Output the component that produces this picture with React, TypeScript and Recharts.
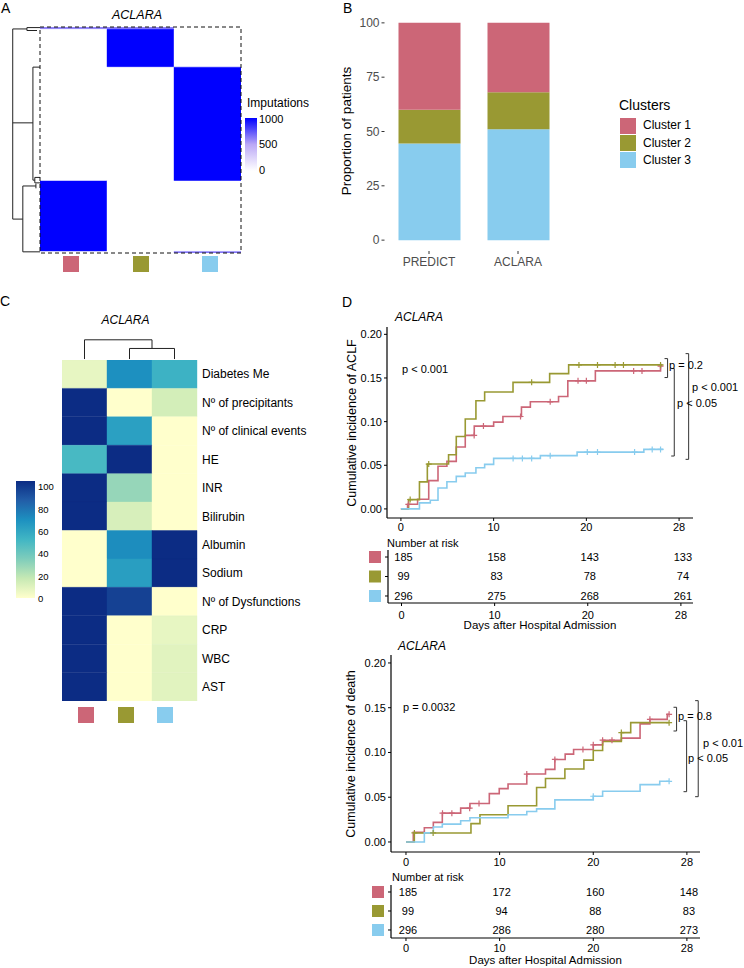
import React from "react";
import { Bar, BarChart, Cell, ComposedChart, Line, Scatter, XAxis, YAxis } from "recharts";

const FONT = '"Liberation Sans", Arial, Helvetica, sans-serif';

const clusterNames = ["Cluster 1", "Cluster 2", "Cluster 3"];
const clusterColors = ["#CC6677", "#999933", "#88CCEE"];

// ---------- A: imputation heatmap (row blocks, top to bottom) ----------
const impBlockSizes = [6, 97, 292, 181, 4];
// number of imputations (of 1000) assigning each block to clusters 1..3
const impBlockValues = [
  [620, 620, 0],
  [0, 1000, 0],
  [0, 0, 1000],
  [1000, 0, 0],
  [0, 0, 650],
];
const impLegendTicks = ["1000", "500", "0"];
// dendrogram segments as [height, patient row]
const impDendro: [number, number][][] = [
  [[1, 5], [1, 493]],
  [[1, 5], [0.48, 5]],
  [[0.48, 1.5], [0.48, 9]],
  [[0.48, 1.5], [0, 1.5]],
  [[0.48, 9], [0.11, 9]],
  [[1, 246], [0.26, 246]],
  [[0.26, 103], [0.26, 393]],
  [[0.26, 103], [0, 103]],
  [[0.26, 393], [0.19, 393]],
  [[0.19, 386], [0.19, 400]],
  [[0.19, 386], [0, 386]],
  [[0.19, 400], [0, 400]],
  [[1, 493], [0.63, 493]],
  [[0.63, 408], [0.63, 577]],
  [[0.63, 408], [0.15, 408]],
  [[0.15, 402], [0.15, 414]],
  [[0.63, 577], [0, 577]],
];

// ---------- B: proportion of patients ----------
const cohorts = ["PREDICT", "ACLARA"];
const pctCluster1 = [40.0, 31.9];
const pctCluster2 = [15.5, 17.1];
const pctCluster3 = [44.5, 51.0];
const pctTicks = [0, 25, 50, 75, 100];

// ---------- C: feature heatmap ----------
const featureNames = [
  "Diabetes Me",
  "Nº of precipitants",
  "Nº of clinical events",
  "HE",
  "INR",
  "Bilirubin",
  "Albumin",
  "Sodium",
  "Nº of Dysfunctions",
  "CRP",
  "WBC",
  "AST",
];
const featCluster1 = [7, 100, 100, 48, 100, 100, 0, 0, 100, 100, 100, 100];
const featCluster2 = [67, 0, 60, 100, 28, 12, 68, 61, 93, 0, 0, 0];
const featCluster3 = [52, 13, 0, 0, 0, 0, 100, 100, 0, 7, 9, 9];
const featLegendTicks = ["100", "80", "60", "40", "20", "0"];
// column dendrogram segments as [column position, height]
const featDendro: [number, number][][] = [
  [[0.5, 0], [0.5, 0.8]],
  [[0.5, 0.8], [2.0, 0.8]],
  [[2.0, 0.8], [2.0, 0.44]],
  [[1.5, 0.44], [2.5, 0.44]],
  [[1.5, 0.44], [1.5, 0]],
  [[2.5, 0.44], [2.5, 0]],
];

// ---------- D: cumulative incidence ----------
const dayTicks = [0, 10, 20, 30];
const dayTickLabels = ["0", "10", "20", "28"];
const incTicks = [0, 0.05, 0.1, 0.15, 0.2];

const aclfC1: [number, number][] = [
  [0, 0], [0.72, 0.0053], [1.8, 0.011], [3.0, 0.0324], [4.0, 0.0488], [4.96, 0.0545],
  [5.97, 0.0709], [6.94, 0.0842], [7.91, 0.0949], [10.0, 0.0994], [11.0, 0.1059],
  [13.0, 0.1166], [13.96, 0.1227], [17.0, 0.1288], [18.0, 0.1467], [20.97, 0.1581],
  [28.0, 0.1635], [28.1, 0.1635],
];
const aclfC2: [number, number][] = [
  [0, 0], [0.83, 0.0107], [2.0, 0.031], [2.85, 0.0514], [5.14, 0.062], [5.97, 0.083],
  [6.94, 0.103], [8.09, 0.124], [9.03, 0.134], [12.09, 0.145], [16.04, 0.155],
  [18.09, 0.165], [28.2, 0.165],
];
const aclfC3: [number, number][] = [
  [0, 0], [2.0, 0.0069], [3.17, 0.0099], [4.0, 0.024], [4.96, 0.0312], [5.97, 0.0373],
  [6.94, 0.0411], [8.09, 0.0472], [9.03, 0.051], [10.0, 0.0579], [15.04, 0.061],
  [19.0, 0.0651], [26.2, 0.0682], [28.3, 0.0682],
];
const aclfCensor1 = [0.8, 7.9, 8.9, 12.9, 16.1, 19.1, 20.0, 25.1, 26.0, 28.0];
const aclfCensor2 = [1.0, 3.0, 14.1, 19.2, 21.2, 23.1, 24.0, 28.0];
const aclfCensor3 = [12.1, 13.1, 14.1, 16.1, 20.1, 21.2, 25.2, 27.1, 28.0];
const aclfBracketDays = [28.76, 29.48, 31.03];
const aclfBracketTops = [0.1722, 0.1608, 0.1779];
const aclfBracketBottoms = [0.1505, 0.0606, 0.0568];

const deathC1: [number, number][] = [
  [0, 0], [0.78, 0.0107], [1.96, 0.0159], [2.92, 0.0219], [3.88, 0.0322], [5.84, 0.0378],
  [6.83, 0.043], [8.9, 0.054], [9.96, 0.0596], [10.9, 0.0648], [12.9, 0.0759],
  [14.9, 0.0811], [15.9, 0.0922], [17.0, 0.0981], [17.9, 0.1033], [20.0, 0.1085],
  [21.0, 0.1137], [23.0, 0.116], [25.0, 0.132], [26.05, 0.137], [27.9, 0.1426],
  [28.1, 0.1426],
];
const deathC2: [number, number][] = [
  [0, 0], [0.89, 0.0101], [6.94, 0.0205], [7.9, 0.0305], [10.9, 0.0405], [13.95, 0.0609],
  [14.9, 0.071], [16.97, 0.0815], [19.0, 0.0915], [20.0, 0.1022], [21.0, 0.1122],
  [23.0, 0.1222], [24.0, 0.1333], [28.1, 0.1333],
];
const deathC3: [number, number][] = [
  [0, 0], [1.96, 0.0102], [2.92, 0.0167], [3.88, 0.02], [5.84, 0.0237], [6.83, 0.027],
  [10.9, 0.0304], [12.9, 0.0341], [13.95, 0.037], [15.9, 0.047], [20.0, 0.0511],
  [21.0, 0.0567], [25.0, 0.0641], [27.1, 0.0678], [28.1, 0.0678],
];
const deathCensor1 = [3.9, 4.9, 6.8, 7.8, 12.9, 15.9, 18.9, 20.0, 21.0, 22.0, 26.05, 28.1];
const deathCensor2 = [0.9, 2.9, 23.0, 28.1];
const deathCensor3 = [20.0, 28.1];
const deathBracketDays = [28.9, 29.97, 31.21];
const deathBracketTops = [0.1505, 0.1355, 0.1579];
const deathBracketBottoms = [0.124, 0.0562, 0.0506];

const aclfRisk1 = [185, 158, 143, 133];
const aclfRisk2 = [99, 83, 78, 74];
const aclfRisk3 = [296, 275, 268, 261];
const deathRisk1 = [185, 172, 160, 148];
const deathRisk2 = [99, 94, 88, 83];
const deathRisk3 = [296, 286, 280, 273];

// ---------- helpers ----------
const impColors = ["#ffffff", "#bba8f6", "#0000ff"];
const ylGnBu = ["#ffffcc", "#c7e9b4", "#7fcdbb", "#41b6c4", "#1d91c0", "#225ea8", "#0c2c84"];

function ramp(stops: string[], t: number) {
  const n = stops.length - 1;
  const p = Math.max(0, Math.min(1, t)) * n;
  const i = Math.min(n - 1, Math.floor(p));
  const f = p - i;
  const a = stops[i], b = stops[i + 1];
  const c = [1, 3, 5].map((k) => {
    const u = parseInt(a.slice(k, k + 2), 16);
    const v = parseInt(b.slice(k, k + 2), 16);
    return Math.round(u + (v - u) * f);
  });
  return `rgb(${c[0]},${c[1]},${c[2]})`;
}

function stepAt(pts: [number, number][], d: number) {
  let v = 0;
  for (const [x, y] of pts) if (x <= d) v = y;
  return v;
}

function Txt({ x, y, size = 11, anchor = "start", italic = false, color = "#000", children }: any) {
  const tx = anchor === "middle" ? "-50%" : anchor === "end" ? "-100%" : "0";
  return (
    <div
      style={{
        position: "absolute",
        left: x,
        top: y - size * 0.59,
        fontSize: size,
        lineHeight: `${size * 1.2}px`,
        whiteSpace: "nowrap",
        fontStyle: italic ? "italic" : "normal",
        color,
        transform: `translateX(${tx})`,
      }}
    >
      {children}
    </div>
  );
}

function VTxt({ x, y, size = 12, children }: any) {
  return (
    <div
      style={{
        position: "absolute",
        left: x,
        top: y,
        fontSize: size,
        lineHeight: `${size * 1.2}px`,
        whiteSpace: "nowrap",
        transform: "translate(-50%, -50%) rotate(-90deg)",
      }}
    >
      {children}
    </div>
  );
}

function Box({ x, y, w, h, color }: any) {
  return <div style={{ position: "absolute", left: x, top: y, width: w, height: h, background: color }} />;
}

const segData = (seg: [number, number][]) => seg.map(([x, y]) => ({ x, y }));

// ---------- panel A ----------
function PanelA() {
  const data = clusterNames.map((c) => {
    const row: any = { col: c };
    impBlockSizes.forEach((n, b) => (row["b" + b] = n));
    return row;
  });
  const total = impBlockSizes.reduce((s, n) => s + n, 0);
  return (
    <>
      <Txt x={1} y={8} size={14}>A</Txt>
      <Txt x={137} y={15} size={12.5} italic anchor="middle">ACLARA</Txt>
      <div style={{ position: "absolute", left: 10, top: 27 }}>
        <ComposedChart width={30} height={226} margin={{ top: 0, right: 0, left: 0, bottom: 0 }}>
          <XAxis type="number" dataKey="x" domain={[0, 1.1]} reversed hide allowDataOverflow />
          <YAxis type="number" dataKey="y" domain={[0, total]} reversed hide allowDataOverflow />
          {impDendro.map((seg, i) => (
            <Line key={i} data={segData(seg)} dataKey="y" type="linear" stroke="#222" strokeWidth={1}
              dot={false} activeDot={false} isAnimationActive={false} />
          ))}
        </ComposedChart>
      </div>
      <div style={{ position: "absolute", left: 40, top: 27 }}>
        <BarChart width={201} height={226} data={data} margin={{ top: 0, right: 0, left: 0, bottom: 0 }}
          barCategoryGap={0} barGap={0}>
          <XAxis dataKey="col" hide />
          <YAxis type="number" domain={[0, total]} reversed hide />
          {impBlockSizes.map((_, b) => (
            <Bar key={b} dataKey={"b" + b} stackId="imp" isAnimationActive={false}>
              {clusterNames.map((c, j) => {
                const col = ramp(impColors, impBlockValues[b][j] / 1000);
                return <Cell key={c} fill={col} stroke={col} strokeWidth={0.4} />;
              })}
            </Bar>
          ))}
        </BarChart>
      </div>
      <svg style={{ position: "absolute", left: 39, top: 26 }} width={204} height={229}>
        <rect x={1} y={1} width={201} height={226} fill="none" stroke="#111" strokeWidth={1} strokeDasharray="4 3" />
      </svg>
      {clusterColors.map((c, j) => (
        <Box key={c} x={63 + j * 69.5} y={256} w={16} h={16} color={c} />
      ))}
      <Txt x={247} y={103} size={12}>Imputations</Txt>
      <div style={{ position: "absolute", left: 245, top: 118, width: 12, height: 53,
        background: `linear-gradient(to top, ${impColors.join(", ")})` }} />
      {impLegendTicks.map((t, i) => (
        <Txt key={t} x={259} y={119 + i * 25.5} size={11}>{t}</Txt>
      ))}
    </>
  );
}

// ---------- panel B ----------
function PanelB() {
  const data = cohorts.map((c, i) => ({ cohort: c, c1: pctCluster1[i], c2: pctCluster2[i], c3: pctCluster3[i] }));
  const axisTick = { fill: "#4d4d4d", fontSize: 12 };
  return (
    <>
      <Txt x={343} y={8} size={14}>B</Txt>
      <div style={{ position: "absolute", left: 300, top: 0 }}>
        <BarChart width={270} height={270} data={data} margin={{ top: 12, right: 7.5, left: 44.5, bottom: 0 }}>
          <XAxis dataKey="cohort" axisLine={false} tickLine={{ stroke: "#333" }} tickSize={3} tickMargin={3}
            tick={axisTick} height={19} interval={0} />
          <YAxis type="number" domain={[-5, 105]} ticks={pctTicks} axisLine={false} tickLine={{ stroke: "#333" }}
            tickSize={3} tickMargin={2} tick={axisTick} width={40} interval={0} />
          <Bar dataKey="c3" stackId="p" fill={clusterColors[2]} barSize={62} isAnimationActive={false} />
          <Bar dataKey="c2" stackId="p" fill={clusterColors[1]} barSize={62} isAnimationActive={false} />
          <Bar dataKey="c1" stackId="p" fill={clusterColors[0]} barSize={62} isAnimationActive={false} />
        </BarChart>
      </div>
      <VTxt x={347} y={131} size={13.5}>Proportion of patients</VTxt>
      <Txt x={619} y={105} size={14}>Clusters</Txt>
      {clusterNames.map((n, i) => (
        <React.Fragment key={n}>
          <Box x={620} y={118 + i * 17} w={16} h={16} color={clusterColors[i]} />
          <Txt x={643} y={125.5 + i * 17.5} size={12}>{n}</Txt>
        </React.Fragment>
      ))}
    </>
  );
}

// ---------- panel C ----------
function PanelC() {
  const featValues = [featCluster1, featCluster2, featCluster3];
  const data = clusterNames.map((c) => {
    const row: any = { col: c };
    featureNames.forEach((_, r) => (row["r" + r] = 1));
    return row;
  });
  const rowTicks = featureNames.map((_, r) => r + 0.5);
  return (
    <>
      <Txt x={0} y={301} size={14}>C</Txt>
      <Txt x={125.5} y={320} size={12} italic anchor="middle">ACLARA</Txt>
      <div style={{ position: "absolute", left: 62, top: 335 }}>
        <ComposedChart width={135} height={25} margin={{ top: 0, right: 0, left: 0, bottom: 0 }}>
          <XAxis type="number" dataKey="x" domain={[0, 3]} hide allowDataOverflow />
          <YAxis type="number" dataKey="y" domain={[-0.04, 1]} hide allowDataOverflow />
          {featDendro.map((seg, i) => (
            <Line key={i} data={segData(seg)} dataKey="y" type="linear" stroke="#222" strokeWidth={1}
              dot={false} activeDot={false} isAnimationActive={false} />
          ))}
        </ComposedChart>
      </div>
      <div style={{ position: "absolute", left: 62, top: 360 }}>
        <BarChart width={275} height={341} data={data} margin={{ top: 0, right: 0, left: 0, bottom: 0 }}
          barCategoryGap={0} barGap={0}>
          <XAxis dataKey="col" hide />
          <YAxis type="number" orientation="right" domain={[0, featureNames.length]} reversed ticks={rowTicks}
            interval={0} tickFormatter={(v: number) => featureNames[Math.floor(v)]} axisLine={false}
            tickLine={false} tickSize={0} tickMargin={5} width={140} tick={{ fill: "#000", fontSize: 12 }} />
          {featureNames.map((f, r) => (
            <Bar key={f} dataKey={"r" + r} stackId="f" isAnimationActive={false}>
              {clusterNames.map((c, j) => {
                const col = ramp(ylGnBu, featValues[j][r] / 100);
                return <Cell key={c} fill={col} stroke={col} strokeWidth={0.4} />;
              })}
            </Bar>
          ))}
        </BarChart>
      </div>
      <div style={{ position: "absolute", left: 16, top: 481, width: 19, height: 117,
        background: `linear-gradient(to top, ${ylGnBu.join(", ")})` }} />
      {featLegendTicks.map((t, i) => (
        <Txt key={t} x={38} y={487 + i * 22.3} size={9.5}>{t}</Txt>
      ))}
      {clusterColors.map((c, j) => (
        <Box key={c} x={78 + j * 39.5} y={707} w={16} h={16} color={c} />
      ))}
    </>
  );
}

// ---------- panel D ----------
const axisLineStyle = { stroke: "#000", strokeWidth: 1.2 };
const tickLineStyle = { stroke: "#000" };
const blackTick = { fill: "#000", fontSize: 11 };

function plusShape(color: string) {
  return (p: any) => (
    <path d={`M${p.cx - 3},${p.cy}h6M${p.cx},${p.cy - 3}v6`} stroke={color} strokeWidth={1.2} fill="none" />
  );
}

function IncidenceChart({ top, height, yWidth, right, xDomain, yDomain, curves, censors, bTops, bBottoms, bDays, tickMargin }: any) {
  return (
    <div style={{ position: "absolute", left: 330, top }}>
      <ComposedChart width={414} height={height} margin={{ top: 7, right, left: 0, bottom: 0 }}>
        <XAxis type="number" dataKey="x" domain={xDomain} allowDataOverflow ticks={dayTicks} interval={0}
          tickFormatter={(v: number) => dayTickLabels[dayTicks.indexOf(v)]} axisLine={axisLineStyle}
          tickLine={tickLineStyle} tickSize={3} tickMargin={tickMargin} tick={blackTick} height={20} />
        <YAxis type="number" dataKey="y" domain={yDomain} allowDataOverflow ticks={incTicks} interval={0}
          tickFormatter={(v: number) => v.toFixed(2)} axisLine={axisLineStyle} tickLine={tickLineStyle}
          tickSize={3} tickMargin={2} tick={blackTick} width={yWidth} />
        {curves.map((pts: [number, number][], i: number) => (
          <Line key={"c" + i} data={segData(pts)} dataKey="y" type="stepAfter" stroke={clusterColors[i]}
            strokeWidth={1.6} dot={false} activeDot={false} isAnimationActive={false} />
        ))}
        {censors.map((days: number[], i: number) => (
          <Scatter key={"s" + i} data={days.map((d) => ({ x: d, y: stepAt(curves[i], d) }))} dataKey="y"
            shape={plusShape(clusterColors[i])} isAnimationActive={false} />
        ))}
        {bDays.map((d: number, i: number) => (
          <Line key={"b" + i}
            data={[{ x: d - 0.33, y: bTops[i] }, { x: d, y: bTops[i] }, { x: d, y: bBottoms[i] }, { x: d - 0.33, y: bBottoms[i] }]}
            dataKey="y" type="linear" stroke="#333" strokeWidth={1} dot={false} activeDot={false} isAnimationActive={false} />
        ))}
      </ComposedChart>
    </div>
  );
}

function RiskTable({ top, yWidth, right, xDomain, yDomain, counts, tickMargin }: any) {
  const data = counts.flatMap((row: number[], r: number) =>
    row.map((n, j) => ({ x: dayTicks[j], y: 3 - r, n }))
  );
  const keyTick = (p: any) => {
    const r = 3 - p.payload.value;
    return <rect x={p.x - 12} y={p.y - 6} width={12} height={12} fill={clusterColors[r]} />;
  };
  return (
    <div style={{ position: "absolute", left: 330, top }}>
      <ComposedChart width={414} height={73} margin={{ top: 0, right, left: 0, bottom: 0 }}>
        <XAxis type="number" dataKey="x" domain={xDomain} allowDataOverflow ticks={dayTicks} interval={0}
          tickFormatter={(v: number) => dayTickLabels[dayTicks.indexOf(v)]} axisLine={axisLineStyle}
          tickLine={tickLineStyle} tickSize={3} tickMargin={tickMargin} tick={blackTick} height={20} />
        <YAxis type="number" dataKey="y" domain={yDomain} allowDataOverflow ticks={[1, 2, 3]} interval={0}
          axisLine={axisLineStyle} tickLine={tickLineStyle} tickSize={3} tickMargin={4} tick={keyTick} width={yWidth} />
        <Scatter data={data} dataKey="y" isAnimationActive={false}
          shape={(p: any) => (
            <text x={p.cx + 2} y={p.cy} dy="0.355em" textAnchor="middle" fontSize={11} fill="#000">{p.payload.n}</text>
          )} />
      </ComposedChart>
    </div>
  );
}

function PanelD() {
  return (
    <>
      <Txt x={342} y={302} size={14}>D</Txt>
      <Txt x={395} y={317} size={12} italic>ACLARA</Txt>
      <IncidenceChart top={320} height={218} yWidth={57} right={51} xDomain={[-1.5, 31.5]}
        yDomain={[-0.0104, 0.2084]} curves={[aclfC1, aclfC2, aclfC3]}
        censors={[aclfCensor1, aclfCensor2, aclfCensor3]} bDays={aclfBracketDays}
        bTops={aclfBracketTops} bBottoms={aclfBracketBottoms} tickMargin={2.5} />
      <VTxt x={352} y={422.5} size={12.5}>Cumulative incidence of ACLF</VTxt>
      <Txt x={402} y={369} size={11}>p &lt; 0.001</Txt>
      <Txt x={669} y={365} size={11}>p = 0.2</Txt>
      <Txt x={692} y={387} size={11}>p &lt; 0.001</Txt>
      <Txt x={677} y={403} size={11}>p &lt; 0.05</Txt>
      <Txt x={387} y={543} size={11}>Number at risk</Txt>
      <RiskTable top={550} yWidth={58} right={51} xDomain={[-1.45, 31.3]} yDomain={[0.641, 3.359]}
        counts={[aclfRisk1, aclfRisk2, aclfRisk3]} tickMargin={5} />
      <Txt x={540} y={626} size={11.5} anchor="middle">Days after Hospital Admission</Txt>

      <Txt x={398} y={646} size={12} italic>ACLARA</Txt>
      <IncidenceChart top={648} height={224} yWidth={61} right={44} xDomain={[-1.6, 31.4]}
        yDomain={[-0.0112, 0.2089]} curves={[deathC1, deathC2, deathC3]}
        censors={[deathCensor1, deathCensor2, deathCensor3]} bDays={deathBracketDays}
        bTops={deathBracketTops} bBottoms={deathBracketBottoms} tickMargin={3.5} />
      <VTxt x={351} y={753.5} size={12.5}>Cumulative incidence of death</VTxt>
      <Txt x={403} y={707} size={11}>p = 0.0032</Txt>
      <Txt x={678} y={716} size={11}>p = 0.8</Txt>
      <Txt x={703} y={743} size={11}>p &lt; 0.01</Txt>
      <Txt x={688} y={758} size={11}>p &lt; 0.05</Txt>
      <Txt x={392} y={877} size={11}>Number at risk</Txt>
      <RiskTable top={885} yWidth={61} right={44} xDomain={[-1.6, 31.4]} yDomain={[0.579, 3.368]}
        counts={[deathRisk1, deathRisk2, deathRisk3]} tickMargin={3} />
      <Txt x={545.5} y={960.5} size={11.5} anchor="middle">Days after Hospital Admission</Txt>
    </>
  );
}

export default function App() {
  return (
    <div style={{ position: "absolute", left: 0, top: 0, width: 744, height: 968, overflow: "hidden",
      background: "#fff", fontFamily: FONT, color: "#000" }}>
      <PanelA />
      <PanelB />
      <PanelC />
      <PanelD />
    </div>
  );
}
